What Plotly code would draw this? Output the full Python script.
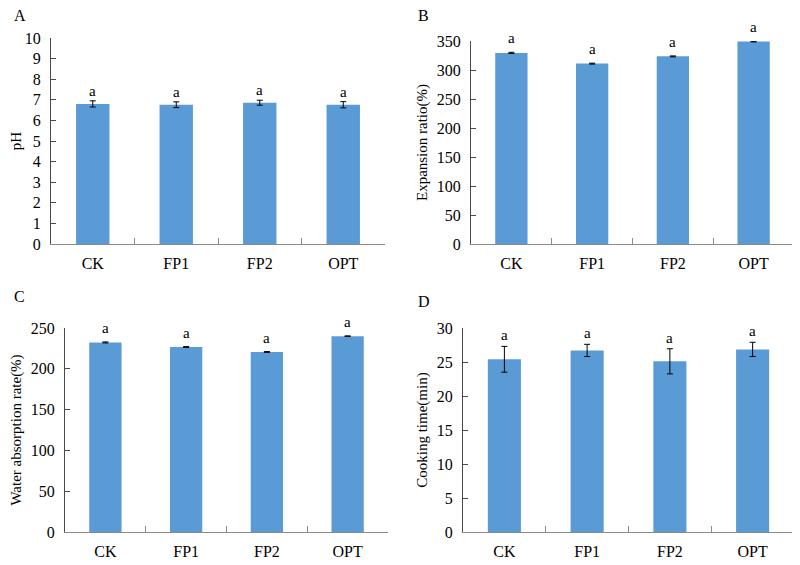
import plotly.graph_objects as go

categories = ["CK", "FP1", "FP2", "OPT"]

ph_values = [6.80, 6.76, 6.86, 6.76]
ph_errors = [0.15, 0.14, 0.12, 0.15]

expansion_values = [329.5, 311.0, 323.5, 349.0]
expansion_errors = [1.0, 0.8, 0.8, 0.6]

absorption_values = [232.3, 226.7, 220.6, 240.0]
absorption_errors = [0.6, 0.5, 0.5, 0.4]

cooking_values = [25.4, 26.7, 25.1, 26.85]
cooking_errors = [1.9, 0.9, 1.85, 1.05]

letters = ["a", "a", "a", "a"]

FONT = "Liberation Serif, Times New Roman, serif"
BAR = "#5B9BD5"
YAX = "#4a4a4a"
XAX = "#8a8a8a"

# page body has a default 8px margin; figure is sized to fit the window
OFF = 8
W, H = 800 - OFF, 565 - OFF


def px(x):
    return (x - OFF) / W


def py(y):
    return 1 - (y - OFF) / H


panels = [
    dict(vals=ph_values, errs=ph_errors, title="pH", rng=[0, 10], dtick=1,
         xd=[px(51), px(385)], yd=[py(244), py(38)], label="A", lx=px(12), ly=py(5),
         shift=10),
    dict(vals=expansion_values, errs=expansion_errors, title="Expansion ratio(%)", rng=[0, 350], dtick=50,
         xd=[px(471), px(794)], yd=[py(244), py(41)], label="B", lx=px(416), ly=py(5),
         shift=14),
    dict(vals=absorption_values, errs=absorption_errors, title="Water absorption rate(%)", rng=[0, 250], dtick=50,
         xd=[px(65), px(388)], yd=[py(532), py(328)], label="C", lx=px(12), ly=py(286),
         shift=14),
    dict(vals=cooking_values, errs=cooking_errors, title="Cooking time(min)", rng=[0, 30], dtick=5,
         xd=[px(463), px(794)], yd=[py(532), py(328)], label="D", lx=px(416), ly=py(291),
         shift=11),
]

fig = go.Figure()
annotations = []
layout = {}
for i, p in enumerate(panels, start=1):
    sfx = "" if i == 1 else str(i)
    xa, ya = "x" + sfx, "y" + sfx
    fig.add_trace(go.Bar(
        x=categories, y=p["vals"], xaxis=xa, yaxis=ya,
        marker=dict(color=BAR, line=dict(width=0)),
        width=0.4,
        error_y=dict(type="data", array=p["errs"], visible=True, color="black",
                     thickness=1, width=3),
        showlegend=False, hoverinfo="x+y",
    ))
    layout["xaxis" + sfx] = dict(
        domain=p["xd"], anchor=ya, type="category", showline=True, linecolor=XAX,
        linewidth=1, ticks="inside", tickson="boundaries", ticklen=6, tickcolor=XAX,
        tickfont=dict(family=FONT, size=16, color="black"), showgrid=False,
        zeroline=False, range=[-0.5, 3.5], fixedrange=True, automargin=False,
        ticklabelstandoff=5,
    )
    layout["yaxis" + sfx] = dict(
        domain=p["yd"], anchor=xa, range=p["rng"], dtick=p["dtick"], showline=True,
        linecolor=YAX, linewidth=1, ticks="inside", ticklen=5, tickcolor=YAX,
        tickfont=dict(family=FONT, size=16, color="black"), showgrid=False,
        zeroline=False, title=dict(text=p["title"], font=dict(family=FONT, size=15, color="black"),
                                   standoff=5),
        fixedrange=True, automargin=False, ticklabelstandoff=6,
    )
    for c, v, e, t in zip(categories, p["vals"], p["errs"], letters):
        annotations.append(dict(
            x=c, y=v + e, xref=xa, yref=ya, text=t, showarrow=False,
            yanchor="middle", yshift=p["shift"],
            font=dict(family=FONT, size=15, color="black"),
        ))
    annotations.append(dict(
        x=p["lx"], y=p["ly"], xref="paper", yref="paper", text=p["label"],
        showarrow=False, xanchor="left", yanchor="top",
        font=dict(family=FONT, size=16, color="black"),
    ))

fig.update_layout(
    **layout,
    annotations=annotations,
    width=W, height=H,
    margin=dict(l=0, r=0, t=0, b=0),
    paper_bgcolor="white", plot_bgcolor="white",
    bargap=0.6,
)

fig.write_html("out.html")
